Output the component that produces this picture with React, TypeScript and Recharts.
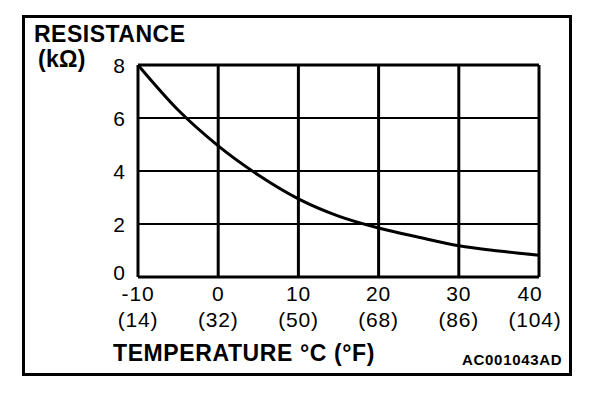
import React from 'react';
import { LineChart, Line, XAxis, YAxis, CartesianGrid, ReferenceLine } from 'recharts';

const tempC = [-10, -5, 0, 5, 10, 15, 20, 25, 30, 35, 40];
const resistance = [8.0, 6.3, 4.95, 3.85, 2.95, 2.3, 1.85, 1.5, 1.18, 0.98, 0.82];
const xTicks = [-10, 0, 10, 20, 30, 40];
const xTicksF = ['(14)', '(32)', '(50)', '(68)', '(86)', '(104)'];
const yTicks = [0, 2, 4, 6, 8];

const data = tempC.map((t, i) => ({ t, r: resistance[i] }));

const FONT = '"Liberation Sans", Arial, Helvetica, sans-serif';

const XTick = (props: any) => {
  const { x, y, payload } = props;
  const idx = xTicks.indexOf(payload.value);
  const last = idx === xTicks.length - 1;
  return (
    <g>
      <text x={x + (last ? -9 : 0)} y={y + 24} textAnchor="middle" fontFamily={FONT} fontSize={21} letterSpacing={0.8} fill="#000">
        {String(payload.value)}
      </text>
      <text x={x + (last ? -4 : 0)} y={y + 50} textAnchor="middle" fontFamily={FONT} fontSize={21} letterSpacing={0.8} fill="#000">
        {xTicksF[idx]}
      </text>
    </g>
  );
};

const YTick = (props: any) => {
  const { y, payload } = props;
  const dy = payload.value === 0 ? 3 : 8;
  return (
    <text x={125} y={y + dy} textAnchor="end" fontFamily={FONT} fontSize={21} fill="#000">
      {String(payload.value)}
    </text>
  );
};

export default function App() {
  return (
    <div style={{ position: 'absolute', left: 0, top: 0, width: 608, height: 394, background: '#fff' }}>
      <LineChart width={608} height={394} data={data} margin={{ top: 65, right: 69, bottom: 0, left: 0 }}>
        <CartesianGrid vertical={false} stroke="#000" strokeWidth={2} horizontalValues={[2, 4, 6]} />
        <XAxis
          dataKey="t"
          type="number"
          domain={[-10, 40]}
          ticks={xTicks}
          height={117}
          axisLine={false}
          tickLine={false}
          tickSize={0}
          tickMargin={0}
          tick={<XTick />}
          interval={0}
        />
        <YAxis
          type="number"
          domain={[0, 8]}
          ticks={yTicks}
          width={138}
          axisLine={false}
          tickLine={false}
          tickSize={0}
          tickMargin={0}
          tick={<YTick />}
          interval={0}
        />
        {xTicks.map((v) => (
          <ReferenceLine key={'x' + v} x={v} stroke="#000" strokeWidth={3} ifOverflow="visible" />
        ))}
        <ReferenceLine y={0} stroke="#000" strokeWidth={3} ifOverflow="visible" />
        <ReferenceLine y={8} stroke="#000" strokeWidth={3} ifOverflow="visible" />
        <Line type="monotone" dataKey="r" stroke="#000" strokeWidth={3} dot={false} isAnimationActive={false} />
      </LineChart>
      <svg width={608} height={394} style={{ position: 'absolute', left: 0, top: 0, pointerEvents: 'none' }}>
        <rect x={23.5} y={16.5} width={547} height={358} fill="none" stroke="#000" strokeWidth={3} />
        <text x={34} y={42} fontFamily={FONT} fontWeight="bold" fontSize={23} letterSpacing={0.5} fill="#000">RESISTANCE</text>
        <text x={38} y={67} fontFamily={FONT} fontWeight="bold" fontSize={23} letterSpacing={0.3} fill="#000">(kΩ)</text>
        <text x={113} y={361} fontFamily={FONT} fontWeight="bold" fontSize={23} letterSpacing={0.6} fill="#000">TEMPERATURE °C (°F)</text>
        <text x={462} y={365} fontFamily={FONT} fontWeight="bold" fontSize={15} letterSpacing={0.7} fill="#000">AC001043AD</text>
      </svg>
    </div>
  );
}
